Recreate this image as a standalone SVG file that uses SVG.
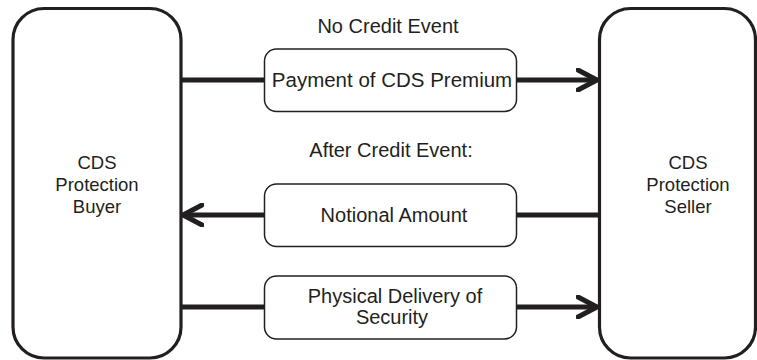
<svg xmlns="http://www.w3.org/2000/svg" width="757" height="360" viewBox="0 0 757 360">
<style>
.big{fill:#fff;stroke:#231f20;stroke-width:3.2}
.small{fill:#fff;stroke:#231f20;stroke-width:1.5}
.t{font-family:"Liberation Sans",Arial,sans-serif;font-size:20px;fill:#231f20;text-anchor:middle}
.n{font-size:18.5px}
.ln{stroke:#231f20;stroke-width:5;fill:none}
</style>
<defs>
<marker id="ah" markerUnits="userSpaceOnUse" viewBox="0 0 24 24" refX="21" refY="12" markerWidth="24" markerHeight="24" orient="auto">
<path d="M2,2 L21,12 L2,22" fill="none" stroke="#231f20" stroke-width="5" stroke-linecap="round" stroke-linejoin="miter"/>
</marker>
</defs>
<g id="connectors">
<line class="ln" x1="181" y1="80" x2="265" y2="80"/>
<line class="ln" x1="516" y1="80" x2="597" y2="80" marker-end="url(#ah)"/>
<line class="ln" x1="599" y1="215" x2="516" y2="215"/>
<line class="ln" x1="265" y1="215" x2="183" y2="215" marker-end="url(#ah)"/>
<line class="ln" x1="181" y1="307" x2="265" y2="307"/>
<line class="ln" x1="516" y1="307" x2="597" y2="307" marker-end="url(#ah)"/>
</g>
<g id="buyer">
<rect class="big" x="13" y="8.5" width="168" height="349.5" rx="31" ry="31"/>
<text class="t n" x="97" y="169">CDS</text>
<text class="t n" x="97" y="191">Protection</text>
<text class="t n" x="97" y="213">Buyer</text>
</g>
<g id="seller">
<rect class="big" x="599.5" y="8.5" width="156" height="349.5" rx="31" ry="31"/>
<text class="t n" x="688" y="169">CDS</text>
<text class="t n" x="688" y="191">Protection</text>
<text class="t n" x="688" y="213">Seller</text>
</g>
<g id="premium">
<rect class="small" x="264.5" y="49" width="252" height="62.5" rx="12" ry="12"/>
<text class="t" x="392" y="87" style="font-size:20.5px">Payment of CDS Premium</text>
</g>
<g id="notional">
<rect class="small" x="264.5" y="184" width="252" height="62.5" rx="12" ry="12"/>
<text class="t" x="394" y="222">Notional Amount</text>
</g>
<g id="delivery">
<rect class="small" x="264.5" y="276" width="252" height="63" rx="12" ry="12"/>
<text class="t" x="395" y="303">Physical Delivery of</text>
<text class="t" x="392" y="324">Security</text>
</g>
<text class="t" x="388" y="33">No Credit Event</text>
<text class="t" x="391" y="157">After Credit Event:</text>
</svg>
